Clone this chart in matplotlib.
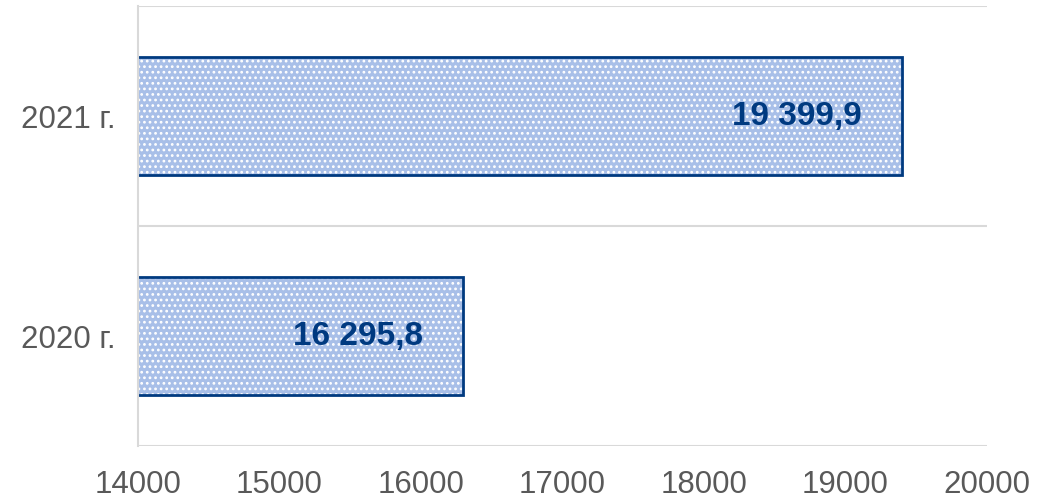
import matplotlib.pyplot as plt

# data
years = ['2020 г.', '2021 г.']
values = [16295.8, 19399.9]
value_labels = ['16 295,8', '19 399,9']
xticks = [14000, 15000, 16000, 17000, 18000, 19000, 20000]

fill_col = '#A8BFE8'
edge_col = '#003A80'
grid_col = '#D9D9D9'
text_col = '#595959'

plt.rcParams['font.family'] = ['Liberation Sans', 'DejaVu Sans']
plt.rcParams['hatch.linewidth'] = 1.2

fig = plt.figure(figsize=(10.54, 5.03), dpi=100)
ax = fig.add_axes([0.1309, 0.1133, 0.8055, 0.8747])

pos = list(range(len(years)))
# fill with white dot pattern, then the dark outline on top
ax.barh(pos, values, height=0.536, color=fill_col, edgecolor='white',
        hatch='...', linewidth=0, zorder=2)
ax.barh(pos, values, height=0.536, fill=False, edgecolor=edge_col,
        linewidth=2, zorder=3)

for p, v, lab in zip(pos, values, value_labels):
    ax.annotate(lab, xy=(v, p), xytext=(-29, 0), textcoords='offset points',
                ha='right', va='center', fontsize=24, fontweight='bold',
                color=edge_col, zorder=4)

ax.set_xlim(14000, 20000)
ax.set_ylim(-0.5, 1.5)
ax.set_xticks(xticks)
ax.set_xticklabels([str(t) for t in xticks])
ax.set_yticks(pos)
ax.set_yticklabels(years)
ax.tick_params(axis='x', length=0, pad=17, labelsize=22.5, labelcolor=text_col)
ax.tick_params(axis='y', length=0, pad=16, labelsize=22.5, labelcolor=text_col)

# category gridlines between the bars
ax.set_yticks([-0.5, 0.5, 1.5], minor=True)
ax.tick_params(axis='y', which='minor', length=0)
ax.grid(True, which='minor', axis='y', color=grid_col, linewidth=1.5, zorder=0)
ax.grid(False, which='major')

for s in ['top', 'right', 'bottom']:
    ax.spines[s].set_visible(False)
ax.spines['left'].set_color(grid_col)
ax.spines['left'].set_linewidth(1.5)
ax.spines['left'].set_zorder(5)

fig.savefig('out.png', dpi=100)
